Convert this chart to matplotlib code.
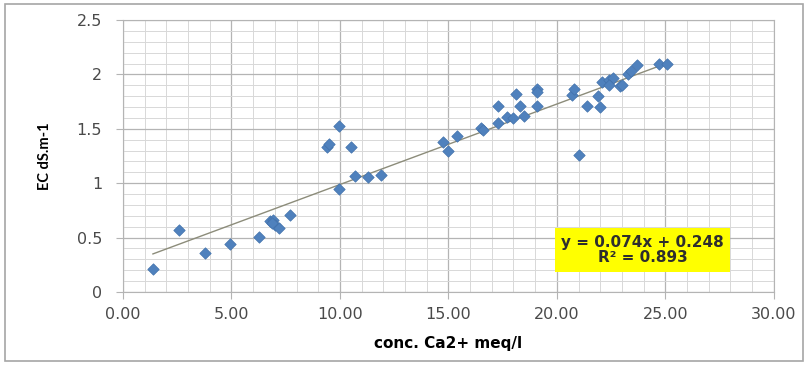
import matplotlib.pyplot as plt
from matplotlib.ticker import MultipleLocator, FormatStrFormatter
from matplotlib.patches import Rectangle
import numpy as np

# Ca2+ concentration (meq/l) vs EC (dS/m)
ca = [1.38, 2.58, 3.78, 4.93, 6.27, 6.77, 6.9, 7.0, 7.2, 6.85, 7.7, 9.95,
      9.4, 9.5, 9.95, 10.5, 10.7, 11.3, 11.9,
      14.75, 15.0, 15.4, 16.5, 16.6, 17.3, 17.3, 17.7, 18.0, 18.1, 18.3, 18.5,
      19.1, 19.1, 19.1, 20.7, 20.8, 21.0, 21.4, 21.9, 22.0, 22.1, 22.4, 22.6,
      22.4, 22.9, 23.0, 23.3, 23.4, 23.7, 24.7, 25.1]
ec = [0.21, 0.57, 0.36, 0.44, 0.51, 0.65, 0.66, 0.62, 0.59, 0.63, 0.71, 0.95,
      1.33, 1.36, 1.53, 1.33, 1.07, 1.06, 1.08,
      1.38, 1.30, 1.43, 1.51, 1.49, 1.55, 1.71, 1.61, 1.60, 1.82, 1.71, 1.62,
      1.87, 1.84, 1.71, 1.81, 1.87, 1.26, 1.71, 1.80, 1.70, 1.93, 1.95, 1.97,
      1.90, 1.89, 1.90, 2.00, 2.03, 2.09, 2.10, 2.10]
slope = 0.074
intercept = 0.248
r2 = 0.893

plt.rcParams['font.family'] = ['DejaVu Sans']

fig = plt.figure(figsize=(8.06, 3.65), dpi=100)
fig.patches.append(Rectangle((0.006, 0.012), 0.99, 0.978, transform=fig.transFigure,
                             fill=False, edgecolor='#A6A6A6', linewidth=1.2))
ax = fig.add_axes([0.1526, 0.2, 0.8074, 0.745])

ax.set_xlim(0, 30)
ax.set_ylim(0, 2.5)
ax.xaxis.set_major_locator(MultipleLocator(5))
ax.xaxis.set_minor_locator(MultipleLocator(1))
ax.yaxis.set_major_locator(MultipleLocator(0.5))
ax.yaxis.set_minor_locator(MultipleLocator(0.1))
ax.xaxis.set_major_formatter(FormatStrFormatter('%.2f'))
ax.yaxis.set_major_formatter(lambda v, p: f'{v:g}')

ax.grid(which='major', color='#B4B4B4', linewidth=0.9)
ax.grid(which='minor', color='#D8D8D8', linewidth=0.7)
ax.set_axisbelow(True)
for s in ax.spines.values():
    s.set_color('#B4B4B4')
ax.tick_params(which='major', length=5, color='#B4B4B4', labelsize=11.5,
               labelcolor='#4A4A4A')
ax.tick_params(axis='y', pad=10)
ax.tick_params(axis='x', pad=6)
ax.tick_params(which='minor', length=0)

ax.scatter(ca, ec, marker='D', s=34, color='#4F81BD', edgecolor='#4272AC',
           linewidth=0.5, zorder=3)

xs = np.array([min(ca), max(ca)])
ax.plot(xs, slope * xs + intercept, color='#8C8C7A', linewidth=1.0, zorder=2)

ax.text(23.95, 0.385, f'y = {slope:.3f}x + {intercept:.3f}\nR² = {r2:.3f}',
        ha='center', va='center', fontsize=11, fontweight='bold', color='#2E2E2E',
        linespacing=1.05, zorder=4,
        bbox=dict(boxstyle='square,pad=0.42', facecolor='#FFFF00', edgecolor='none'))

ax.set_xlabel('conc. Ca2+ meq/l', fontsize=11, fontweight='bold', labelpad=10)
ax.set_ylabel('EC dS.m-1', fontsize=10.5, fontweight='bold', labelpad=18,
              family=['Lato', 'DejaVu Sans'])

fig.savefig('out.png', dpi=100)
